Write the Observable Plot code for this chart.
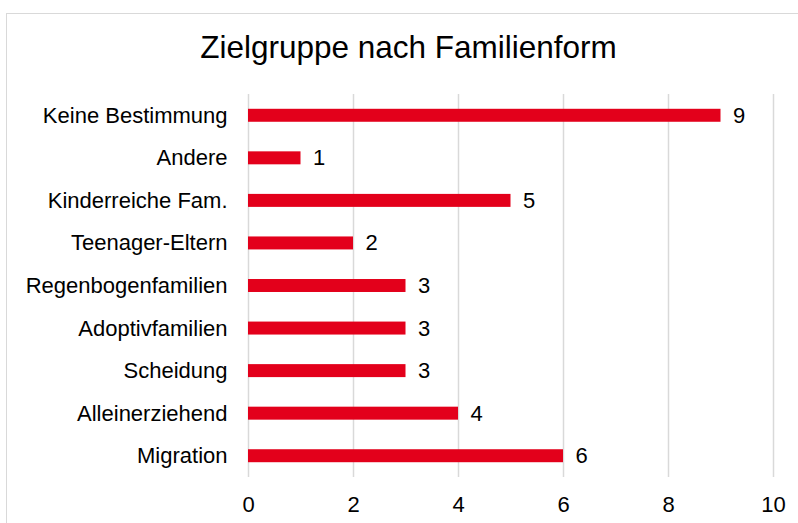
<!DOCTYPE html>
<html><head><meta charset="utf-8">
<script src="https://cdn.jsdelivr.net/npm/d3@7"></script>
<script src="https://cdn.jsdelivr.net/npm/@observablehq/plot@0.6"></script>
<style>
html,body{margin:0;padding:0;background:#fff;overflow:hidden}
#wrap{position:relative;width:798px;height:523px}
#frame{position:absolute;left:6px;top:13px;width:820px;height:540px;border:1px solid #d9d9d9;box-sizing:border-box}
#title{position:absolute;left:0;top:29px;width:817px;text-align:center;font-family:"Liberation Sans",Arial,sans-serif;font-size:31.5px;line-height:36px;color:#000}
#chart{position:absolute;left:0;top:0}
</style></head>
<body><div id="wrap"><div id="frame"></div><div id="chart"></div><div id="title">Zielgruppe nach Familienform</div></div>
<script>
const categories = ["Keine Bestimmung","Andere","Kinderreiche Fam.","Teenager-Eltern","Regenbogenfamilien","Adoptivfamilien","Scheidung","Alleinerziehend","Migration"];
const values = [9,1,5,2,3,3,3,4,6];
const xTicks = [0,2,4,6,8,10];
const data = categories.map((c,i)=>({cat:c, v:values[i]}));
const chart = Plot.plot({
  width:798, height:523,
  marginLeft:248, marginRight:25, marginTop:94, marginBottom:46,
  style:{fontFamily:"'Liberation Sans', Arial, sans-serif", fontSize:"22px", color:"#000", background:"transparent"},
  x:{domain:[0,10], ticks:xTicks, tickSize:0, tickPadding:19, label:null},
  y:{domain:categories, paddingInner:0.695, paddingOuter:0.3475, round:false, tickSize:0, tickPadding:21, label:null},
  marks:[
    Plot.gridX(xTicks,{stroke:"#d9d9d9", strokeOpacity:1, strokeWidth:1.5}),
    Plot.barX(data,{x:"v", y:"cat", fill:"#e3001b"}),
    Plot.text(data,{x:"v", y:"cat", text:d=>String(d.v), dx:12, textAnchor:"start", fontSize:22, fill:"#000"})
  ]
});
document.getElementById("chart").appendChild(chart);
</script></body></html>
